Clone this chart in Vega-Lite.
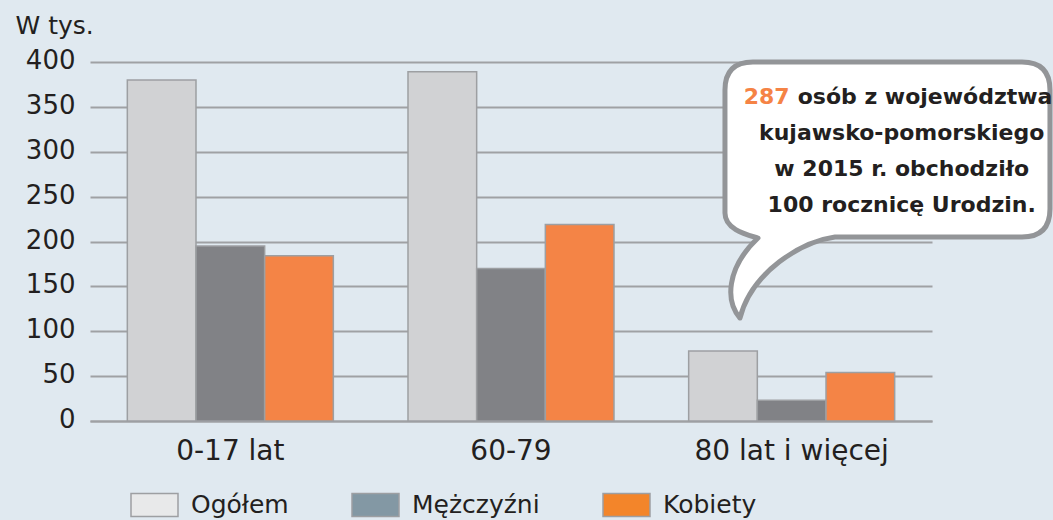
{
  "$schema": "https://vega.github.io/schema/vega-lite/v6.json",
  "width": 842,
  "height": 359,
  "autosize": {"type": "none"},
  "padding": {"left": 90, "top": 62, "right": 121, "bottom": 99},
  "background": "#e0e9f0",
  "config": {
    "view": {"stroke": null},
    "font": "DejaVu Sans",
    "legend": {"padding": 0}
  },
  "data": {
    "values": [
      {"group": "0-17 lat", "series": "Ogółem", "value": 380},
      {"group": "0-17 lat", "series": "Mężczyźni", "value": 195},
      {"group": "0-17 lat", "series": "Kobiety", "value": 184},
      {"group": "60-79", "series": "Ogółem", "value": 389},
      {"group": "60-79", "series": "Mężczyźni", "value": 170},
      {"group": "60-79", "series": "Kobiety", "value": 219},
      {"group": "80 lat i więcej", "series": "Ogółem", "value": 78},
      {"group": "80 lat i więcej", "series": "Mężczyźni", "value": 23},
      {"group": "80 lat i więcej", "series": "Kobiety", "value": 54}
    ]
  },
  "resolve": {"scale": {"color": "independent"}, "legend": {"color": "independent"}},
  "layer": [
    {
      "mark": {"type": "bar", "stroke": "#9d9fa2", "strokeWidth": 1.5},
      "encoding": {
        "x": {
          "field": "group",
          "type": "nominal",
          "sort": ["0-17 lat", "60-79", "80 lat i więcej"],
          "scale": {"paddingInner": 0.266, "paddingOuter": 0.133},
          "axis": {
            "title": null,
            "labelAngle": 0,
            "labelFont": "DejaVu Sans",
            "labelFontSize": 28,
            "labelColor": "#231f20",
            "labelBaseline": "alphabetic",
            "labelPadding": 38,
            "labelLimit": 400,
            "ticks": false,
            "tickSize": 0,
            "domain": true,
            "domainColor": "#9fa1a4",
            "domainWidth": 2
          }
        },
        "xOffset": {
          "field": "series",
          "type": "nominal",
          "sort": ["Ogółem", "Mężczyźni", "Kobiety"],
          "scale": {"paddingInner": 0, "paddingOuter": 0}
        },
        "y": {
          "field": "value",
          "type": "quantitative",
          "scale": {"domain": [0, 400], "nice": false},
          "axis": {
            "title": "W tys.",
            "titleAngle": 0,
            "titleX": -75,
            "titleY": -29,
            "titleAlign": "left",
            "titleBaseline": "alphabetic",
            "titleFont": "DejaVu Sans",
            "titleFontSize": 25,
            "titleFontWeight": "normal",
            "titleColor": "#231f20",
            "values": [0, 50, 100, 150, 200, 250, 300, 350, 400],
            "labelFont": "DejaVu Sans",
            "labelFontSize": 26,
            "labelColor": "#231f20",
            "labelBaseline": "alphabetic",
            "labelOffset": 6.5,
            "labelPadding": 15,
            "ticks": false,
            "tickSize": 0,
            "domain": false,
            "grid": true,
            "gridColor": "#9fa1a4",
            "gridWidth": 1.8,
            "gridOpacity": 1
          }
        },
        "color": {
          "field": "series",
          "type": "nominal",
          "scale": {
            "domain": ["Ogółem", "Mężczyźni", "Kobiety"],
            "range": ["#d1d2d4", "#818286", "#f48446"]
          },
          "legend": null
        }
      }
    },
    {
      "transform": [{"filter": "false"}],
      "mark": {"type": "bar", "stroke": "#9d9fa2", "strokeWidth": 1.5},
      "encoding": {
        "x": {"field": "group", "type": "nominal", "sort": ["0-17 lat", "60-79", "80 lat i więcej"]},
        "y": {"field": "value", "type": "quantitative"},
        "color": {
          "field": "series",
          "type": "nominal",
          "scale": {
            "domain": ["Ogółem", "Mężczyźni", "Kobiety"],
            "range": ["#e8e9ea", "#8398a4", "#f3852a"]
          },
          "legend": {
            "orient": "none",
            "legendX": 40,
            "legendY": 418,
            "direction": "horizontal",
            "title": null,
            "symbolType": "M-1,-0.49L1,-0.49L1,0.49L-1,0.49Z",
            "symbolSize": 2209,
            "symbolStrokeColor": "#9d9fa2",
            "symbolStrokeWidth": 1.5,
            "symbolOpacity": 1,
            "labelFont": "DejaVu Sans",
            "labelFontSize": 25,
            "labelColor": "#231f20",
            "labelOffset": 12,
            "labelLimit": 300,
            "columnPadding": 60
          }
        }
      }
    },
    {
      "data": {"values": [{"note": "bubble"}]},
      "mark": {
        "type": "point",
        "shape": "M-0.387,-1.346L2.303,-1.346Q2.583,-1.346 2.583,-1.066L2.583,0.124Q2.583,0.404 2.303,0.404L0.433,0.404C0.1,0.45 -0.4,0.75 -0.517,1.214C-0.66,1.05 -0.66,0.72 -0.337,0.414C-0.45,0.38 -0.667,0.33 -0.667,0.164L-0.667,-1.066Q-0.667,-1.346 -0.387,-1.346Z",
        "size": 40000,
        "filled": true,
        "fill": "#ffffff",
        "fillOpacity": 1,
        "opacity": 1,
        "stroke": "#939598",
        "strokeWidth": 5,
        "strokeOpacity": 1,
        "strokeJoin": "round"
      },
      "encoding": {
        "x": {"datum": "80 lat i więcej"},
        "y": {"datum": 250}
      }
    },
    {
      "data": {"values": [{"t": "287"}]},
      "mark": {
        "type": "text",
        "align": "right",
        "baseline": "alphabetic",
        "dx": -2,
        "dy": -92.6,
        "font": "DejaVu Sans",
        "fontSize": 22,
        "fontWeight": "bold",
        "color": "#f58345"
      },
      "encoding": {
        "x": {"datum": "80 lat i więcej"},
        "y": {"datum": 250},
        "text": {"field": "t"}
      }
    },
    {
      "data": {"values": [{"t": "osób z województwa"}]},
      "mark": {
        "type": "text",
        "align": "left",
        "baseline": "alphabetic",
        "dx": 6,
        "dy": -92.6,
        "font": "DejaVu Sans",
        "fontSize": 22,
        "fontWeight": "bold",
        "color": "#231f20"
      },
      "encoding": {
        "x": {"datum": "80 lat i więcej"},
        "y": {"datum": 250},
        "text": {"field": "t"}
      }
    },
    {
      "data": {"values": [{"note": "text"}]},
      "mark": {
        "type": "text",
        "text": ["kujawsko-pomorskiego", "w 2015 r. obchodziło", "100 rocznicę Urodzin."],
        "align": "center",
        "baseline": "alphabetic",
        "dx": 110,
        "dy": -56.6,
        "lineHeight": 36,
        "font": "DejaVu Sans",
        "fontSize": 22,
        "fontWeight": "bold",
        "color": "#231f20"
      },
      "encoding": {
        "x": {"datum": "80 lat i więcej"},
        "y": {"datum": 250}
      }
    }
  ]
}
